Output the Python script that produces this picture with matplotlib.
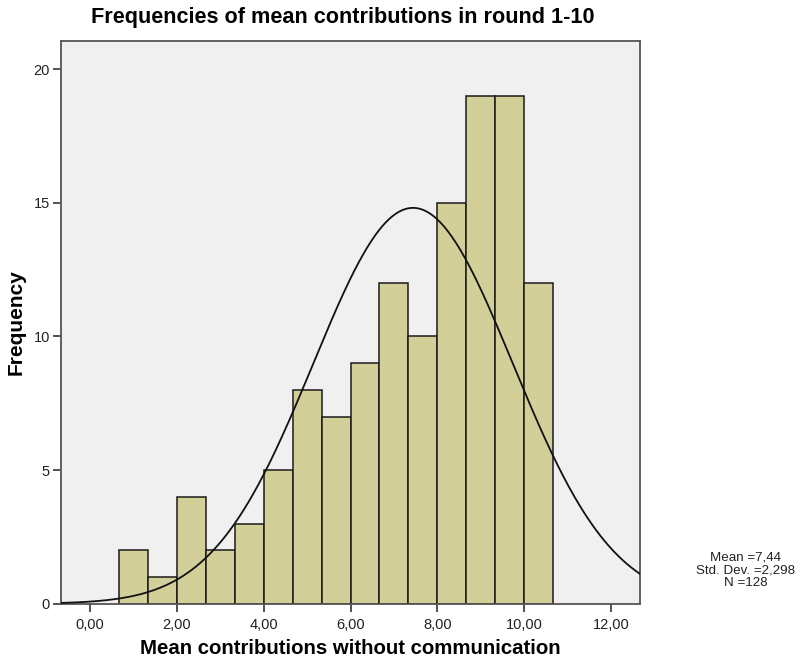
import numpy as np
import matplotlib
matplotlib.use("Agg")
from matplotlib import pyplot as plt

plt.rcParams['font.family'] = ['Liberation Sans', 'DejaVu Sans']

# histogram bins (width 2/3) and counts per bin
bin_edges = [2/3 * k for k in range(1, 17)]
counts = [2, 1, 4, 2, 3, 5, 8, 7, 9, 12, 10, 15, 19, 19, 12]

mean_val = 7.44
std_val = 2.298
n_val = 128

x_ticks = [0, 2, 4, 6, 8, 10, 12]
x_tick_labels = ["0,00", "2,00", "4,00", "6,00", "8,00", "10,00", "12,00"]
y_ticks = [0, 5, 10, 15, 20]

stats_lines = ["Mean =7,44", "Std. Dev. =2,298", "N =128"]

W, H = 806, 664
fig = plt.figure(figsize=(W / 100, H / 100), dpi=100)
ax = fig.add_axes([61/W, 1 - 603.7/H, (640 - 61)/W, (603.7 - 40.7)/H])
ax.set_facecolor("#f0f0f0")

widths = np.diff(bin_edges)
ax.bar(bin_edges[:-1], counts, width=widths, align="edge",
       color="#d3cf98", edgecolor="#1a1a1a", linewidth=1.1, zorder=2)

# normal curve scaled to the histogram
xs = np.linspace(-2/3, 12 + 2/3, 400)
bw = widths[0]
ys = n_val * bw / (std_val * np.sqrt(2 * np.pi)) * np.exp(-0.5 * ((xs - mean_val) / std_val) ** 2)
ax.plot(xs, ys, color="#111111", linewidth=1.3, zorder=3)

ax.set_xlim(-2/3, 12 + 2/3)
ax.set_ylim(0, 21.07)
ax.set_xticks(x_ticks)
ax.set_xticklabels(x_tick_labels)
ax.set_yticks(y_ticks)
ax.tick_params(direction="out", length=6, width=1.3, color="#444444",
               labelsize=10.5, labelcolor="#222222", pad=4)
ax.tick_params(axis="y", pad=2)
for sp in ax.spines.values():
    sp.set_color("#555555")
    sp.set_linewidth(1.3)

fig.text(343/W, 1 - 17/H, "Frequencies of mean contributions in round 1-10",
         ha="center", va="center", fontsize=15.6, fontweight="bold")
ax.set_xlabel("Mean contributions without communication",
              fontsize=14.7, fontweight="bold", labelpad=5)
ax.set_ylabel("Frequency", fontsize=15, fontweight="bold", labelpad=6)

# summary box, one line at a time
for i, line in enumerate(stats_lines):
    fig.text(746/W, 1 - (561 + 12.5 * i)/H, line,
             ha="center", va="baseline", fontsize=9.6, color="#222222")

fig.savefig("out.png", dpi=100)
